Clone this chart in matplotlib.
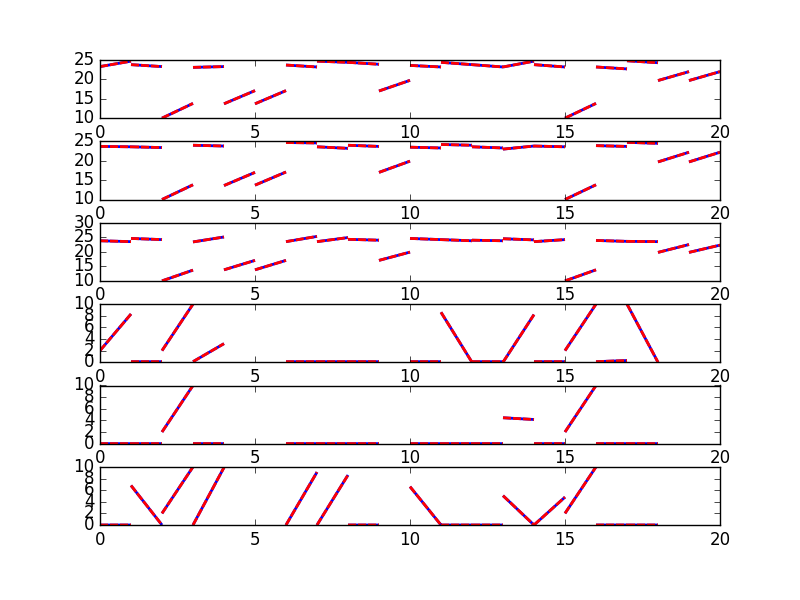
import numpy as np
import matplotlib
matplotlib.use("Agg")
import matplotlib.pyplot as plt

plt.style.use('classic')

# Each panel: segments from x0 to x0+1, with start and end values
p1_x0 = [0, 1, 2, 3, 4, 5, 6, 7, 8, 9, 10, 11, 12, 13, 14, 15, 16, 17, 18, 19]
p1_y0 = [23.3, 23.8, 10.0, 23.1, 13.7, 13.7, 23.7, 24.7, 24.4, 17.0, 23.6, 24.4, 23.8, 23.2, 23.8, 10.0, 23.2, 24.8, 19.7, 19.7]
p1_y1 = [24.7, 23.3, 13.8, 23.3, 17.1, 17.1, 23.2, 24.4, 23.9, 19.75, 23.2, 23.8, 23.2, 24.7, 23.2, 13.8, 22.7, 24.3, 22.0, 22.0]

p2_x0 = [0, 1, 2, 3, 4, 5, 6, 7, 8, 9, 10, 11, 12, 13, 14, 15, 16, 17, 18, 19]
p2_y0 = [23.7, 23.6, 10.0, 24.0, 13.6, 13.7, 24.7, 23.6, 24.0, 17.0, 23.5, 24.2, 23.6, 23.0, 23.8, 10.0, 23.9, 24.75, 19.7, 19.7]
p2_y1 = [23.6, 23.4, 13.8, 23.8, 17.0, 17.1, 24.6, 23.2, 23.7, 19.9, 23.3, 24.0, 23.3, 23.8, 23.6, 13.8, 23.7, 24.5, 22.2, 22.2]

p3_x0 = [0, 1, 2, 3, 4, 5, 6, 7, 8, 9, 10, 11, 12, 13, 14, 15, 16, 17, 18, 19]
p3_y0 = [23.8, 24.6, 10.0, 23.4, 13.8, 13.8, 23.5, 23.5, 24.3, 17.05, 24.6, 24.2, 24.0, 24.5, 23.5, 10.0, 23.9, 23.6, 19.8, 19.8]
p3_y1 = [23.5, 24.2, 13.7, 25.1, 17.05, 17.05, 25.3, 24.9, 24.0, 19.9, 24.2, 23.8, 23.8, 24.1, 24.2, 13.8, 23.6, 23.5, 22.5, 22.3]

p4_x0 = [0, 1, 2, 3, 4, 5, 6, 7, 8, 9, 10, 11, 12, 13, 14, 15, 16, 17, 18, 19]
p4_y0 = [2.0, 0.1, 2.0, 0.1, 10.1, 10.1, 0.1, 0.1, 0.1, 10.1, 0.1, 8.6, 0.1, 0.0, 0.1, 2.0, 0.1, 10.0, 10.1, 10.1]
p4_y1 = [8.3, 0.1, 10.0, 3.2, 10.1, 10.1, 0.1, 0.1, 0.1, 10.1, 0.1, 0.0, 0.1, 8.2, 0.1, 10.0, 0.3, 0.0, 10.1, 10.1]

p5_x0 = [0, 1, 2, 3, 6, 7, 8, 10, 11, 12, 13, 14, 15, 16, 17]
p5_y0 = [0.0, 0.0, 2.0, 0.0, 0.0, 0.0, 0.0, 0.0, 0.0, 0.0, 4.45, 0.0, 2.0, 0.0, 0.0]
p5_y1 = [0.0, 0.0, 10.0, 0.0, 0.0, 0.0, 0.0, 0.0, 0.0, 0.0, 4.15, 0.0, 10.0, 0.0, 0.0]

p6_x0 = [0, 1, 2, 3, 6, 7, 8, 10, 11, 12, 13, 14, 15, 16, 17]
p6_y0 = [0.0, 6.8, 2.0, 0.0, 0.0, 0.0, 0.0, 6.6, 0.0, 0.0, 5.05, 0.0, 2.0, 0.0, 0.0]
p6_y1 = [0.0, 0.0, 10.0, 9.9, 9.1, 8.6, 0.0, 0.0, 0.0, 0.0, 0.0, 4.8, 10.0, 0.0, 0.0]

xticks = [0, 5, 10, 15, 20]
yticks_a = [10, 15, 20, 25]
yticks_b = [10, 15, 20, 25, 30]
yticks_c = [0, 2, 4, 6, 8, 10]

panels = [
    (p1_x0, p1_y0, p1_y1, (10, 25), yticks_a),
    (p2_x0, p2_y0, p2_y1, (10, 25), yticks_a),
    (p3_x0, p3_y0, p3_y1, (10, 30), yticks_b),
    (p4_x0, p4_y0, p4_y1, (0, 10), yticks_c),
    (p5_x0, p5_y0, p5_y1, (0, 10), yticks_c),
    (p6_x0, p6_y0, p6_y1, (0, 10), yticks_c),
]

fig, axes = plt.subplots(6, 1, figsize=(8, 6), dpi=100)
fig.subplots_adjust(left=0.125, right=0.9, top=0.9, bottom=0.125, hspace=0.4)

for ax, (x0, y0, y1, ylim, yt) in zip(axes, panels):
    xs, ys = [], []
    for a, b, c in zip(x0, y0, y1):
        xs += [a, a + 1, np.nan]
        ys += [b, c, np.nan]
    ax.plot(xs, ys, color='blue', lw=2, solid_capstyle='butt')
    ax.plot(xs, ys, color='red', lw=2, linestyle='--', dashes=(5.8, 1.4))
    ax.set_xlim(0, 20)
    ax.set_ylim(*ylim)
    ax.set_xticks(xticks)
    ax.set_yticks(yt)

fig.savefig('out.png', dpi=100, facecolor='white')
